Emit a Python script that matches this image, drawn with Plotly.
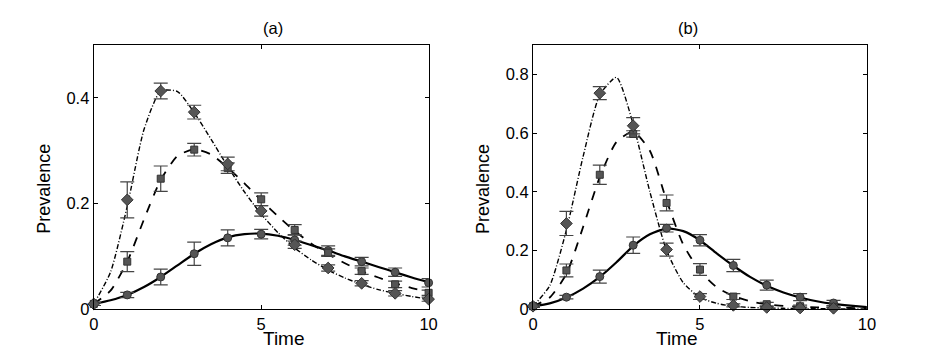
import plotly.graph_objects as go

# ---------------- data ----------------
t_obs_a = [0, 1, 2, 3, 4, 5, 6, 7, 8, 9, 10]
t_obs_b = [0, 1, 2, 3, 4, 5, 6, 7, 8, 9]

# panel (a) observations
a_circ = [0.010, 0.027, 0.061, 0.105, 0.135, 0.142, 0.131, 0.111, 0.090, 0.070, 0.050]
a_circ_err = [0.003, 0.005, 0.015, 0.022, 0.015, 0.009, 0.010, 0.009, 0.008, 0.008, 0.008]
a_sq = [0.010, 0.090, 0.247, 0.302, 0.267, 0.208, 0.150, 0.107, 0.072, 0.047, 0.031]
a_sq_err = [0.003, 0.019, 0.024, 0.012, 0.010, 0.012, 0.010, 0.007, 0.006, 0.006, 0.005]
a_dia = [0.010, 0.207, 0.413, 0.373, 0.275, 0.186, 0.122, 0.078, 0.049, 0.030, 0.019]
a_dia_err = [0.003, 0.034, 0.015, 0.013, 0.013, 0.010, 0.007, 0.006, 0.005, 0.005, 0.004]

# panel (b) observations
b_circ = [0.010, 0.041, 0.111, 0.218, 0.276, 0.235, 0.149, 0.082, 0.041, 0.021]
b_circ_err = [0.003, 0.006, 0.022, 0.028, 0.013, 0.019, 0.021, 0.017, 0.012, 0.009]
b_sq = [0.010, 0.132, 0.458, 0.597, 0.362, 0.135, 0.043, 0.017, 0.010, 0.008]
b_sq_err = [0.003, 0.022, 0.033, 0.011, 0.027, 0.020, 0.010, 0.006, 0.004, 0.003]
b_dia = [0.010, 0.292, 0.736, 0.625, 0.203, 0.043, 0.013, 0.006, 0.004, 0.003]
b_dia_err = [0.003, 0.041, 0.022, 0.028, 0.022, 0.010, 0.005, 0.003, 0.003, 0.003]

# fitted curves
t_fit = [0, 0.5, 1, 1.5, 2, 2.5, 3, 3.5, 4, 4.5, 5, 5.5, 6, 6.5, 7, 7.5, 8, 8.5, 9, 9.5, 10]
a_fit_solid = [0.010, 0.017, 0.027, 0.042, 0.061, 0.083, 0.105, 0.123, 0.136, 0.142, 0.143,
               0.139, 0.131, 0.121, 0.111, 0.100, 0.090, 0.080, 0.070, 0.060, 0.051]
a_fit_dash = [0.010, 0.035, 0.090, 0.170, 0.245, 0.290, 0.303, 0.293, 0.268, 0.238, 0.206,
              0.176, 0.148, 0.124, 0.104, 0.087, 0.072, 0.060, 0.049, 0.040, 0.033]
a_fit_dashdot = [0.010, 0.070, 0.195, 0.340, 0.413, 0.412, 0.372, 0.322, 0.270, 0.222, 0.180,
                 0.145, 0.116, 0.093, 0.074, 0.059, 0.047, 0.037, 0.030, 0.024, 0.019]

b_fit_solid = [0.010, 0.020, 0.040, 0.070, 0.110, 0.160, 0.215, 0.255, 0.275, 0.266, 0.235,
               0.190, 0.148, 0.110, 0.080, 0.057, 0.040, 0.027, 0.018, 0.012, 0.007]
b_fit_dash = [0.010, 0.040, 0.120, 0.280, 0.450, 0.570, 0.605, 0.540, 0.370, 0.220, 0.130,
              0.075, 0.045, 0.027, 0.017, 0.011, 0.008, 0.006, 0.005, 0.004, 0.003]
b_fit_dashdot = [0.010, 0.080, 0.270, 0.520, 0.730, 0.790, 0.630, 0.400, 0.200, 0.090, 0.040,
                 0.020, 0.010, 0.006, 0.004, 0.003, 0.002, 0.002, 0.001, 0.001, 0.001]

panel_titles = ["(a)", "(b)"]
x_label = "Time"
y_label = "Prevalence"

# ---------------- figure ----------------
fig = go.Figure()

FONT = "Liberation Sans, Arial, sans-serif"
MARK_FILL = "#555555"
MARK_LINE = "#333333"
ERR_COL = "#444444"

def add_panel(xa, ya, t_obs, obs, fits):
    styles = [
        dict(width=2.2, dash="solid"),
        dict(width=1.8, dash="dash"),
        dict(width=1.4, dash="5px,2px,1px,2px"),
    ]
    for fit, st in zip(fits, styles):
        fig.add_trace(go.Scatter(x=t_fit, y=fit, mode="lines", xaxis=xa, yaxis=ya,
                                 line=dict(color="black", shape="spline", smoothing=0.6, **st),
                                 showlegend=False, hoverinfo="skip"))
    symbols = ["circle", "square", "diamond"]
    sizes = [8, 7, 9]
    for (vals, errs), sym, sz in zip(obs, symbols, sizes):
        fig.add_trace(go.Scatter(x=t_obs, y=vals, mode="markers", xaxis=xa, yaxis=ya,
                                 marker=dict(symbol=sym, size=sz, color=MARK_FILL,
                                             line=dict(color=MARK_LINE, width=1)),
                                 error_y=dict(type="data", array=errs, visible=True,
                                              color=ERR_COL, thickness=1.2, width=7),
                                 showlegend=False, cliponaxis=False))

add_panel("x", "y", t_obs_a,
          [(a_circ, a_circ_err), (a_sq, a_sq_err), (a_dia, a_dia_err)],
          [a_fit_solid, a_fit_dash, a_fit_dashdot])
add_panel("x2", "y2", t_obs_b,
          [(b_circ, b_circ_err), (b_sq, b_sq_err), (b_dia, b_dia_err)],
          [b_fit_solid, b_fit_dash, b_fit_dashdot])

W, H = 926, 356
def dom_x(l, r):
    return [l / W, r / W]
def dom_y(top, bot):
    return [1 - bot / H, 1 - top / H]

axis_common = dict(showline=True, linecolor="black", linewidth=1.2, mirror="ticks",
                   ticks="inside", ticklen=4, tickcolor="black", showgrid=False,
                   zeroline=False, tickfont=dict(family=FONT, size=16.5, color="black"))

fig.update_layout(
    width=W, height=H, margin=dict(l=0, r=0, t=0, b=0),
    paper_bgcolor="white", plot_bgcolor="white",
    font=dict(family=FONT, color="black"),
    xaxis=dict(domain=dom_x(82, 422), range=[0, 10], tickvals=[0, 5, 10], anchor="y",
               **axis_common),
    yaxis=dict(domain=dom_y(38, 309), range=[0, 0.5], tickvals=[0, 0.2, 0.4],
               ticktext=["0", "0.2", "0.4"], anchor="x", **axis_common),
    xaxis2=dict(domain=dom_x(528, 867), range=[0, 10], tickvals=[0, 5, 10], anchor="y2",
                **axis_common),
    yaxis2=dict(domain=dom_y(38, 309), range=[0, 0.9], tickvals=[0, 0.2, 0.4, 0.6, 0.8],
                ticktext=["0", "0.2", "0.4", "0.6", "0.8"], anchor="x2", **axis_common),
)

for title, (l, r) in zip(panel_titles, [(82, 422), (528, 867)]):
    cx = (l + r) / 2 / W
    fig.add_annotation(text=title, x=cx, y=1 - 21 / H, xref="paper", yref="paper",
                       showarrow=False, yanchor="middle", font=dict(size=16.5, family=FONT))
    fig.add_annotation(text=x_label, x=cx, y=1 - 339 / H, xref="paper", yref="paper",
                       showarrow=False, yanchor="middle", font=dict(size=19, family=FONT))
    fig.add_annotation(text=y_label, x=(l - 50) / W, y=1 - 186 / H, xref="paper", yref="paper",
                       showarrow=False, textangle=-90, xanchor="center", yanchor="middle",
                       font=dict(size=18, family=FONT))

fig.write_html("out.html")
